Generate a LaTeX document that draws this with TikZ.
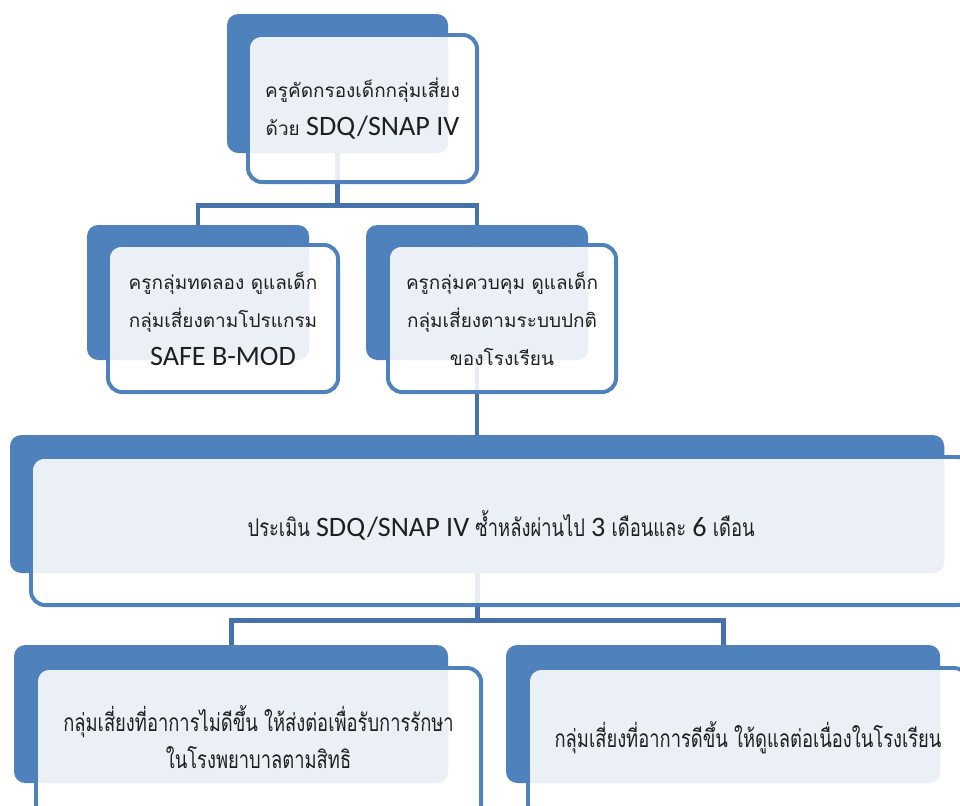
\documentclass[tikz,border=0pt]{standalone}
\usepackage{fontspec}
\newfontfamily\thaifont[Script=Thai]{Loma}
\newfontfamily\thainarrow[Script=Thai,FakeStretch=0.75]{Loma}
\newfontfamily\latinfont{Carlito}
\usepackage{tikz}
\usetikzlibrary{positioning,calc,backgrounds}
\definecolor{accentblue}{HTML}{4F81BD}
\definecolor{paleblue}{HTML}{EBF0F7}
\definecolor{linkblue}{HTML}{4672AA}

\begin{document}
\begin{tikzpicture}[x=0.025cm,y=-0.025cm,
		backbox/.style={fill=accentblue,rounded corners=8pt,anchor=north west,inner sep=0pt,outer sep=0pt},
		frontbox/.style={draw=accentblue,line width=2.8pt,fill=white,fill opacity=0.88,rounded corners=10pt,anchor=north west,inner sep=0pt,outer sep=0pt},
		accentfill/.style={fill=paleblue,rounded corners=8pt},
		boxtext/.style={align=center,text=black!88,font=\thaifont\fontsize{13.5}{27}\selectfont},
		narrowtext/.style={align=center,text=black!88,yshift=4pt,font=\thainarrow\fontsize{17.4}{26.5}\selectfont},
		link/.style={draw=linkblue,line width=3.5pt},
		]
		\useasboundingbox (0,0) rectangle (960,805);
		
		% Screening
		\node[backbox,minimum width=5.525cm,minimum height=3.475cm] (screen) at (227,14) {};
		\node[frontbox,minimum width=5.725cm,minimum height=3.675cm] (screen-f) at (248,35) {};
		\fill[accentfill] ($(screen-f.north west)+(2,2)$) rectangle (screen.south east);
		\node[boxtext] (screen-t) at (screen-f) {ครูคัดกรองเด็กกลุ่มเสี่ยง\\ด้วย {\latinfont\fontsize{20}{27}\selectfont SDQ/SNAP IV}};
		
		% Experimental group
		\node[backbox,minimum width=5.55cm,minimum height=3.375cm] (exp) at (87,225) {};
		\node[frontbox,minimum width=5.75cm,minimum height=3.675cm] (exp-f) at (108,245) {};
		\fill[accentfill] ($(exp-f.north west)+(2,2)$) rectangle (exp.south east);
		\node[boxtext] (exp-t) at (exp-f) {ครูกลุ่มทดลอง ดูแลเด็ก\\กลุ่มเสี่ยงตามโปรแกรม\\{\latinfont\fontsize{20}{27}\selectfont SAFE B-MOD}};
		
		% Control group
		\node[backbox,minimum width=5.55cm,minimum height=3.375cm] (ctl) at (366,225) {};
		\node[frontbox,minimum width=5.7cm,minimum height=3.675cm] (ctl-f) at (388,245) {};
		\fill[accentfill] ($(ctl-f.north west)+(2,2)$) rectangle (ctl.south east);
		\node[boxtext] (ctl-t) at (ctl-f) {ครูกลุ่มควบคุม ดูแลเด็ก\\กลุ่มเสี่ยงตามระบบปกติ\\ของโรงเรียน};
		
		% Re-assessment
		\node[backbox,minimum width=23.35cm,minimum height=3.45cm] (eval) at (10,435) {};
		\node[frontbox,minimum width=23.5cm,minimum height=3.7cm] (eval-f) at (31,457) {};
		\fill[accentfill] ($(eval-f.north west)+(2,2)$) rectangle (eval.south east);
		\node[narrowtext] (eval-t) at (eval-f) {ประเมิน {\latinfont\fontsize{20}{26}\selectfont SDQ/SNAP IV} ซ้ำหลังผ่านไป {\latinfont\fontsize{20}{26}\selectfont 3} เดือนและ {\latinfont\fontsize{20}{26}\selectfont 6} เดือน};
		
		% Outcomes
		\node[backbox,minimum width=10.85cm,minimum height=3.45cm] (refer) at (14,645) {};
		\node[frontbox,minimum width=11.125cm,minimum height=3.75cm] (refer-f) at (36,668) {};
		\fill[accentfill] ($(refer-f.north west)+(2,2)$) rectangle (refer.south east);
		\node[narrowtext] (refer-t) at (refer-f) {กลุ่มเสี่ยงที่อาการไม่ดีขึ้น ให้ส่งต่อเพื่อรับการรักษา\\ในโรงพยาบาลตามสิทธิ};
		
		\node[backbox,minimum width=10.85cm,minimum height=3.45cm] (keep) at (506,645) {};
		\node[frontbox,minimum width=11cm,minimum height=3.75cm] (keep-f) at (528,668) {};
		\fill[accentfill] ($(keep-f.north west)+(2,2)$) rectangle (keep.south east);
		\node[narrowtext] (keep-t) at (keep-f) {กลุ่มเสี่ยงที่อาการดีขึ้น ให้ดูแลต่อเนื่องในโรงเรียน};
		
		% Connectors
		\begin{scope}[on background layer]
			\draw[link] (screen.south) -- ++(0,52) coordinate (j1);
			\draw[link] (j1) -| (exp.north);
			\draw[link] (j1) -| (ctl.north);
			\draw[link] (ctl.south) -- (ctl.south |- eval.north);
			\draw[link] (eval.south) -- ++(0,47) coordinate (j2);
			\draw[link] (j2) -| (refer.north);
			\draw[link] (j2) -| (keep.north);
		\end{scope}
		
	\end{tikzpicture}
\end{document}
